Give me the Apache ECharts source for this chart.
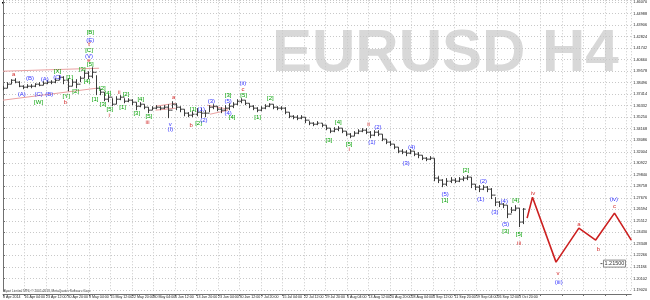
<!DOCTYPE html>
<html><head><meta charset="utf-8">
<script src="https://cdn.jsdelivr.net/npm/echarts@6/dist/echarts.min.js"></script>
<style>html,body{margin:0;padding:0;background:#fff}#c{width:650px;height:300px}</style>
</head><body><div id="c"></div>
<script>
// ---- data (H4 bar index sampled once per trading day) ----
const timeLabels = ['8 Apr 2014','16 Apr 04:00','23 Apr 12:00','30 Apr 20:00','8 May 04:00','15 May 12:00','22 May 20:00','30 May 04:00','6 Jun 12:00','13 Jun 20:00','23 Jun 04:00','30 Jun 12:00','7 Jul 20:00','15 Jul 04:00','22 Jul 12:00','29 Jul 20:00','6 Aug 04:00','13 Aug 12:00','20 Aug 20:00','28 Aug 04:00','4 Sep 12:00','11 Sep 20:00','19 Sep 04:00','26 Sep 12:00','3 Oct 20:00'];
const barsPerLabel = 32;
const barsPerSample = 6;
const closes = [1.3797,1.3835,1.3872,1.3854,1.3816,1.3807,1.3816,1.3816,1.3835,1.3825,1.3844,1.3854,1.3854,1.3872,1.3900,1.3872,1.3816,1.3854,1.3835,1.3891,1.3938,1.3910,1.3947,1.3797,1.3760,1.3694,1.3713,1.3647,1.3694,1.3713,1.3675,1.3685,1.3666,1.3628,1.3647,1.3619,1.3591,1.3610,1.3619,1.3610,1.3619,1.3591,1.3647,1.3619,1.3600,1.3563,1.3544,1.3553,1.3572,1.3563,1.3563,1.3619,1.3628,1.3600,1.3591,1.3610,1.3628,1.3647,1.3675,1.3685,1.3656,1.3628,1.3610,1.3591,1.3610,1.3628,1.3647,1.3619,1.3610,1.3610,1.3572,1.3534,1.3525,1.3516,1.3525,1.3497,1.3469,1.3459,1.3469,1.3450,1.3422,1.3394,1.3412,1.3422,1.3394,1.3366,1.3347,1.3375,1.3394,1.3403,1.3384,1.3356,1.3384,1.3366,1.3319,1.3291,1.3272,1.3244,1.3206,1.3197,1.3187,1.3206,1.3178,1.3168,1.3140,1.3131,1.3140,1.2953,1.2934,1.2896,1.2924,1.2934,1.2924,1.2943,1.2953,1.2962,1.2896,1.2868,1.2849,1.2868,1.2849,1.2793,1.2727,1.2709,1.2699,1.2615,1.2652,1.2671,1.2540,1.2662];
const highs = [1.3816,1.3854,1.3882,1.3891,1.3863,1.3825,1.3835,1.3835,1.3844,1.3854,1.3863,1.3872,1.3872,1.3891,1.3919,1.3910,1.3891,1.3882,1.3882,1.3910,1.3966,1.3957,1.3994,1.3919,1.3788,1.3760,1.3741,1.3703,1.3722,1.3732,1.3703,1.3703,1.3694,1.3666,1.3666,1.3647,1.3619,1.3628,1.3638,1.3628,1.3638,1.3647,1.3675,1.3656,1.3628,1.3600,1.3572,1.3581,1.3610,1.3610,1.3591,1.3638,1.3647,1.3628,1.3619,1.3638,1.3656,1.3666,1.3694,1.3703,1.3685,1.3656,1.3638,1.3619,1.3628,1.3647,1.3656,1.3647,1.3628,1.3628,1.3619,1.3572,1.3544,1.3544,1.3544,1.3525,1.3488,1.3478,1.3488,1.3469,1.3450,1.3422,1.3431,1.3441,1.3422,1.3394,1.3375,1.3394,1.3412,1.3422,1.3422,1.3394,1.3403,1.3403,1.3366,1.3319,1.3300,1.3272,1.3244,1.3225,1.3215,1.3225,1.3206,1.3197,1.3168,1.3150,1.3159,1.3140,1.2971,1.2943,1.2953,1.2962,1.2953,1.2962,1.2971,1.2981,1.2962,1.2896,1.2887,1.2887,1.2878,1.2859,1.2774,1.2737,1.2718,1.2699,1.2681,1.2699,1.2671,1.2671];
const lows = [1.3778,1.3797,1.3835,1.3844,1.3807,1.3788,1.3797,1.3797,1.3807,1.3816,1.3825,1.3835,1.3835,1.3844,1.3872,1.3835,1.3769,1.3816,1.3797,1.3854,1.3891,1.3882,1.3891,1.3732,1.3732,1.3675,1.3666,1.3628,1.3647,1.3685,1.3656,1.3666,1.3638,1.3591,1.3619,1.3600,1.3563,1.3591,1.3600,1.3591,1.3600,1.3516,1.3610,1.3591,1.3572,1.3534,1.3525,1.3525,1.3534,1.3516,1.3525,1.3572,1.3600,1.3581,1.3563,1.3581,1.3591,1.3610,1.3638,1.3656,1.3638,1.3610,1.3591,1.3572,1.3581,1.3600,1.3619,1.3600,1.3591,1.3591,1.3553,1.3516,1.3506,1.3497,1.3506,1.3469,1.3450,1.3441,1.3450,1.3431,1.3403,1.3375,1.3384,1.3394,1.3375,1.3347,1.3328,1.3347,1.3366,1.3384,1.3366,1.3328,1.3347,1.3347,1.3300,1.3272,1.3253,1.3225,1.3187,1.3178,1.3159,1.3178,1.3159,1.3140,1.3122,1.3112,1.3122,1.2924,1.2906,1.2868,1.2878,1.2906,1.2906,1.2915,1.2924,1.2934,1.2859,1.2840,1.2821,1.2840,1.2821,1.2756,1.2690,1.2681,1.2671,1.2577,1.2624,1.2643,1.2493,1.2521];
const firstOpen = 1.3816;

// projected wave path (bar index, price)
const projBars   = [780, 788, 823, 857, 882, 910, 935];
const projPrices = [1.2577, 1.2774, 1.2164, 1.2483, 1.2371, 1.2624, 1.2371];

// wave labels: [text, bar, price, colour key]
const waveLabels = [
 ['a',16,1.3929,'r'],['(B)',40,1.3891,'b'],['(A)',28,1.3741,'b'],['(A)',62,1.3882,'b'],['(C)',53,1.3741,'b'],['(B)',69,1.3741,'b'],['[W]',53,1.3666,'g'],
 ['(C)',81,1.3900,'b'],['[X]',81,1.3957,'g'],['[Y]',94,1.3722,'g'],['b',93,1.3666,'r'],['[1]',99,1.3900,'g'],['[2]',108,1.3769,'g'],['[3]',118,1.3976,'g'],['[4]',125,1.3863,'g'],
 ['[5]',130,1.4022,'g'],['e',128,1.4060,'r'],['(V)',128,1.4098,'b'],['[C]',128,1.4154,'g'],['Y',128,1.4210,'r'],['(E)',130,1.4248,'b'],['[B]',130,1.4323,'g'],
 ['[1]',137,1.3694,'g'],['[2]',148,1.3797,'g'],['[3]',149,1.3647,'g'],['[4]',156,1.3750,'g'],['[5]',159,1.3600,'g'],['i',158,1.3544,'r'],
 ['ii',173,1.3760,'r'],['[1]',178,1.3619,'g'],['[2]',183,1.3741,'g'],['[3]',199,1.3563,'g'],['[4]',205,1.3694,'g'],['[5]',217,1.3534,'g'],['iii',215,1.3478,'r'],
 ['a',254,1.3713,'r'],['v',249,1.3459,'b'],['(I)',249,1.3412,'b'],['b',280,1.3450,'r'],['[1]',283,1.3600,'g'],['(1)',295,1.3600,'b'],['[2]',291,1.3469,'g'],['(2)',299,1.3497,'b'],
 ['(3)',310,1.3675,'b'],['[3]',335,1.3732,'g'],['(5)',335,1.3675,'b'],['(4)',335,1.3563,'b'],['[4]',341,1.3525,'g'],['(ii)',357,1.3844,'b'],['c',357,1.3788,'r'],['[5]',358,1.3732,'g'],
 ['[1]',379,1.3525,'g'],['[2]',398,1.3703,'g'],['[3]',485,1.3309,'g'],['[4]',499,1.3478,'g'],['[5]',515,1.3272,'g'],['i',515,1.3225,'r'],['ii',544,1.3459,'r'],
 ['(1)',549,1.3291,'b'],['(2)',558,1.3431,'b'],['(3)',600,1.3093,'b'],['(4)',608,1.3244,'b'],['(5)',658,1.2802,'b'],['[1]',658,1.2746,'g'],['[2]',689,1.3028,'g'],
 ['(2)',715,1.2924,'b'],['(1)',711,1.2756,'b'],['(3)',732,1.2634,'b'],['(4)',746,1.2737,'b'],['(5)',748,1.2521,'b'],['[3]',748,1.2455,'g'],['[4]',763,1.2746,'g'],
 ['[5]',768,1.2427,'g'],['iii',768,1.2343,'r'],['iv',789,1.2812,'r'],['v',826,1.2061,'r'],['(iii)',827,1.1977,'b'],['a',857,1.2521,'r'],['b',886,1.2286,'r'],['c',910,1.2690,'r'],['(iv)',909,1.2756,'b']
];
// trend lines: [bar1, price1, bar2, price2]
const trendLines = [
 [0,1.3957,143,1.3985],[0,1.3685,139,1.3797],
 [227,1.3628,257,1.3656],[227,1.3591,257,1.3610],
 [304,1.3638,335,1.3600],[308,1.3553,335,1.3591]
];
const priceTag = {bar: 910, price: 1.2150, text: '1.21500'};
const yStep = 0.01082;
const yMinIdx = 110;
const yMax = 1.4623;

// ---- build ----
const ohlc = closes.map((c, i) => [i * barsPerSample, i === 0 ? firstOpen : closes[i - 1], c, lows[i], highs[i]]);
const colours = {g: '#00a000', b: '#3434ff', r: '#d22a2a'};
const chart = echarts.init(document.getElementById('c'), null, {renderer: 'canvas'});
const option = {
  animation: false,
  backgroundColor: '#fff',
  grid: {left: 1, right: 15, top: 0, bottom: 10},
  xAxis: {
    type: 'value', min: 0, max: 935, interval: barsPerLabel, offset: 4,
    axisLine: {show: true, onZero: false, lineStyle: {color: '#707070', width: 1}},
    axisTick: {show: true, length: 2, lineStyle: {color: '#707070'}},
    axisLabel: {show: true, margin: 1, fontSize: 3.6, color: '#222', align: 'left', fontFamily: 'Liberation Sans',
      formatter: v => { const k = v / barsPerLabel; return Number.isInteger(k) && timeLabels[k] ? timeLabels[k] : ''; },
      showMaxLabel: false},
    splitLine: {show: true, lineStyle: {color: '#c8c8c8', type: [1, 2], width: 1}}
  },
  yAxis: {
    type: 'value', position: 'right', min: yMinIdx * yStep, max: yMax, interval: yStep, scale: true,
    axisLine: {show: true, lineStyle: {color: '#707070', width: 1}},
    axisTick: {show: true, length: 2, lineStyle: {color: '#707070'}},
    axisLabel: {show: true, margin: 2, fontSize: 3.8, color: '#222', fontFamily: 'Liberation Sans',
      formatter: v => v.toFixed(5), showMaxLabel: false},
    splitLine: {show: true, lineStyle: {color: '#c8c8c8', type: [1, 2], width: 1}}
  },
  graphic: [
    {type: 'text', left: 272, top: 24, silent: true, z: 0,
     style: {text: 'EURUSD H4', font: 'bold 60px "Liberation Sans", Arial', fill: '#d8d8d8'}},
    {type: 'text', left: 3, top: 289.5, silent: true,
     style: {text: 'Alpari Limited MT4, \u00a9 2001-2013, MetaQuotes Software Corp.', font: '3.2px "Liberation Sans"', fill: '#333'}},
    {type: 'rect', left: 2, top: 2, shape: {width: 2, height: 1.5}, style: {fill: '#000'}}
  ],
  series: [
    { // trend lines
      type: 'custom', z: 2, clip: true,
      data: trendLines.map((t, i) => [t[0], t[1], i]),
      renderItem: (params, api) => {
        const t = trendLines[params.dataIndex];
        const p1 = api.coord([t[0], t[1]]), p2 = api.coord([t[2], t[3]]);
        return {type: 'line', shape: {x1: p1[0], y1: p1[1], x2: p2[0], y2: p2[1]}, style: {stroke: '#eaa0a0', lineWidth: 1}};
      }
    },
    { // OHLC bars
      type: 'custom', z: 3, clip: true,
      data: ohlc,
      renderItem: (params, api) => {
        const b = api.value(0);
        const pH = api.coord([b, api.value(4)]), pL = api.coord([b, api.value(3)]);
        const pO = api.coord([b, api.value(1)]), pC = api.coord([b, api.value(2)]);
        const x = Math.round(pH[0]) + 0.5;
        const st = {stroke: '#3a3a3a', lineWidth: 1};
        return {type: 'group', children: [
          {type: 'line', shape: {x1: x, y1: pH[1], x2: x, y2: pL[1]}, style: st},
          {type: 'line', shape: {x1: x - 2, y1: pO[1], x2: x, y2: pO[1]}, style: st},
          {type: 'line', shape: {x1: x, y1: pC[1], x2: x + 2, y2: pC[1]}, style: st}
        ]};
      },
      markLine: {
        silent: true, symbol: 'none', animation: false,
        data: [{yAxis: closes[closes.length - 1]}],
        lineStyle: {opacity: 0},
        label: {show: true, position: 'end', distance: 1, formatter: p => p.value.toFixed(5),
          backgroundColor: '#000', color: '#fff', fontSize: 3.8, padding: [0.5, 2], fontFamily: 'Liberation Sans'}
      }
    },
    { // projection
      type: 'line', z: 4, clip: true, symbol: 'none',
      data: projBars.map((b, i) => [b, projPrices[i]]),
      lineStyle: {color: '#cc2020', width: 1.6}
    },
    { // wave labels
      type: 'custom', z: 5, clip: false,
      data: waveLabels.map(w => [w[1], w[2]]),
      renderItem: (params, api) => {
        const w = waveLabels[params.dataIndex];
        const p = api.coord([w[1], w[2]]);
        return {type: 'text', x: p[0], y: p[1], style: {text: w[0], fill: colours[w[3]], font: '6px "Liberation Sans"', align: 'center', verticalAlign: 'middle'}};
      }
    },
    { // price tag object
      type: 'custom', z: 5, clip: false,
      data: [[priceTag.bar, priceTag.price]],
      renderItem: (params, api) => {
        const p = api.coord([priceTag.bar, priceTag.price]);
        return {type: 'group', children: [
          {type: 'line', shape: {x1: p[0] - 14, y1: p[1], x2: p[0] - 12, y2: p[1]}, style: {stroke: '#555', lineWidth: 1}},
          {type: 'rect', shape: {x: p[0] - 11, y: p[1] - 3.5, width: 22, height: 7}, style: {fill: '#fff', stroke: '#888', lineWidth: 1}},
          {type: 'text', x: p[0], y: p[1], style: {text: priceTag.text, fill: '#333', font: '5.5px "Liberation Sans"', align: 'center', verticalAlign: 'middle'}}
        ]};
      }
    }
  ]
};
chart.setOption(option);
</script></body></html>
